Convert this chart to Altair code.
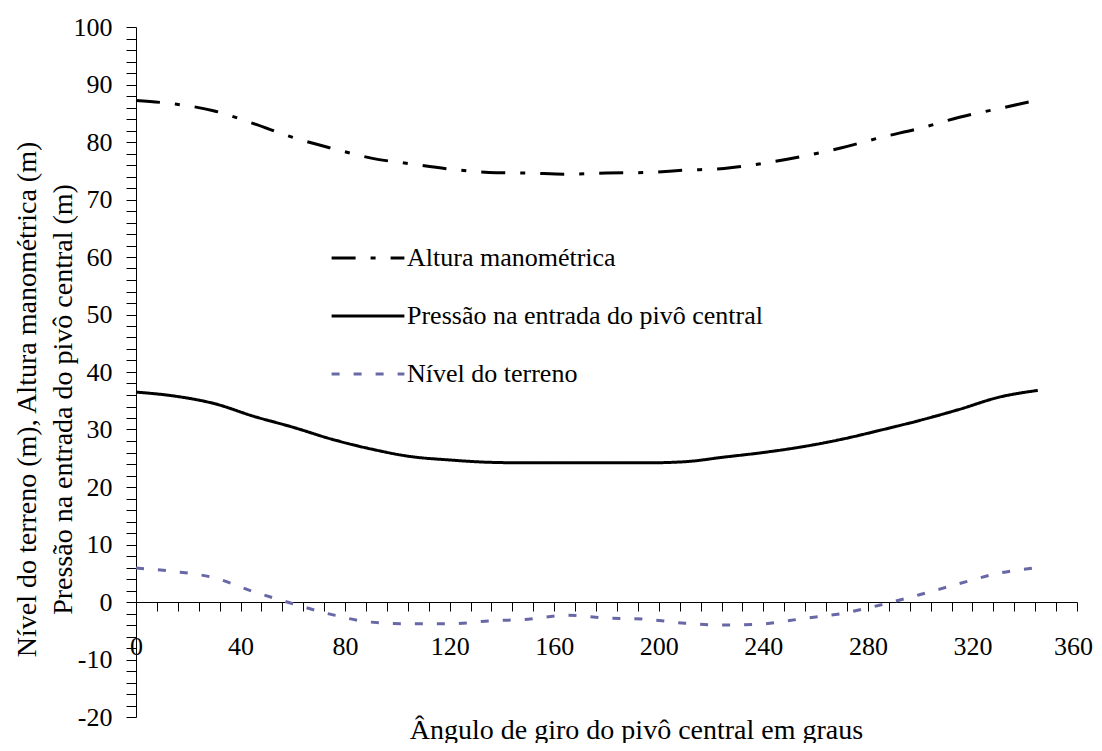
import altair as alt
import pandas as pd

# Angles (degrees) at which the curves are read
angles = [0, 15, 30, 45, 60, 75, 90, 105, 120, 135, 150, 165,
          180, 195, 210, 225, 240, 255, 270, 285, 300, 315, 330, 345]

altura = [87.2, 86.6, 85.4, 83.2, 80.8, 78.9, 77.2, 76.2, 75.3, 74.7, 74.6, 74.4,
          74.6, 74.7, 75.1, 75.4, 76.3, 77.5, 79.0, 80.8, 82.4, 84.3, 85.8, 87.3]

pressao = [36.5, 35.8, 34.5, 32.3, 30.4, 28.3, 26.6, 25.3, 24.7, 24.3, 24.2, 24.2,
           24.2, 24.2, 24.4, 25.2, 26.0, 27.0, 28.3, 29.9, 31.6, 33.5, 35.6, 36.8]

terreno = [5.9, 5.3, 4.2, 1.8, -0.3, -2.2, -3.5, -3.8, -3.8, -3.3, -3.0, -2.3,
           -2.8, -3.0, -3.7, -4.0, -3.8, -2.9, -2.0, -0.5, 1.3, 3.2, 5.0, 6.0]

series_names = ["Altura manométrica", "Pressão na entrada do pivô central", "Nível do terreno"]
series_colors = ["#000000", "#000000", "#6868a6"]
series_dashes = [[24, 15, 5, 15], [1, 0], [8, 14]]

x_ticks = list(range(0, 361, 8))
y_ticks = list(range(-20, 101, 2))

rows = []
for name, vals in zip(series_names, [altura, pressao, terreno]):
    for a, v in zip(angles, vals):
        rows.append({"angulo": a, "valor": v, "serie": name})
df = pd.DataFrame(rows)

FONT = "Liberation Serif"

chart = alt.Chart(df).mark_line(strokeWidth=3, interpolate="monotone").encode(
    x=alt.X(
        "angulo:Q",
        scale=alt.Scale(domain=[0, 360], nice=False, zero=False),
        axis=alt.Axis(
            values=x_ticks,
            labelExpr="datum.value % 40 === 0 ? '' + datum.value : ''",
            labelFlush=False,
            labelOverlap=False,
            labelFont=FONT,
            labelFontSize=26,
            labelOffset={"condition": {"test": "datum.value === 360", "value": -4}, "value": 0},
            tickSize=9,
            labelPadding=22,
            offset=-115,
            title="Ângulo de giro do pivô central em graus",
            titleFont=FONT,
            titleX=500,
            titleY=136,
            titleBaseline="alphabetic",
            titleFontSize=28,
        ),
    ),
    y=alt.Y(
        "valor:Q",
        scale=alt.Scale(domain=[-20, 100], nice=False, zero=False),
        axis=alt.Axis(
            values=y_ticks,
            labelExpr="datum.value % 10 === 0 ? '' + datum.value : ''",
            labelOverlap=False,
            labelFlush=False,
            labelFont=FONT,
            labelFontSize=26,
            tickSize=10,
            labelPadding=14,
            title=["Nível do terreno (m), Altura manométrica (m)",
                   "Pressão na entrada do pivô central (m)"],
            titleFont=FONT,
            titleX=-101,
            titleY=372,
            titleAngle=270,
            titleAlign="center",
            titleBaseline="alphabetic",
            titleLineHeight=36,
            titleFontSize=28,
        ),
    ),
    color=alt.Color(
        "serie:N",
        scale=alt.Scale(domain=series_names, range=series_colors),
        legend=alt.Legend(title=None, labelFont=FONT),
    ),
    strokeDash=alt.StrokeDash(
        "serie:N",
        scale=alt.Scale(domain=series_names, range=series_dashes),
        legend=alt.Legend(title=None, labelFont=FONT),
    ),
).properties(
    width=941,
    height=690,
    autosize=alt.AutoSizeParams(type="none"),
    padding={"left": 128, "top": 19, "right": 17, "bottom": 26},
).configure(
    font=FONT
).configure_view(
    stroke=None
).configure_axis(
    grid=False,
    domainColor="#000000",
    domainWidth=1,
    tickColor="#000000",
    tickWidth=1,
    labelFont=FONT,
    labelColor="#000000",
    titleFont=FONT,
    titleFontWeight="normal",
    titleColor="#000000",
).configure_legend(
    orient="none",
    legendX=194,
    legendY=193,
    symbolType="stroke",
    symbolSize=5300,
    symbolStrokeWidth=3,
    labelFont=FONT,
    labelFontSize=26,
    labelColor="#000000",
    labelOffset=1,
    labelLimit=0,
    rowPadding=7,
    padding=0,
)

chart.save("out.html", embed_options={"renderer": "svg", "actions": False})
